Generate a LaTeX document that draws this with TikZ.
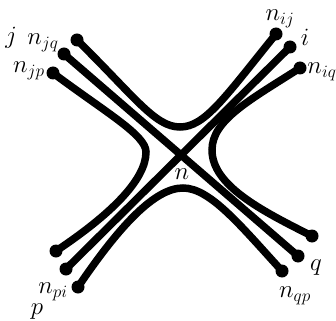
\documentclass[tikz,border=0pt]{standalone}
\begin{document}
\begin{tikzpicture}[x=1pt,y=-1pt,
  strand/.style={line width=7.5pt,black},
  endpt/.style={circle,fill=black,inner sep=0pt,minimum size=13pt},
  lbl/.style={font=\huge,inner sep=0pt}]
\newcommand{\lb}[1]{\scalebox{1.2}{$#1$}}
\useasboundingbox (0,0) rectangle (336,320);
% end points
\node[endpt] (a1) at (77,40) {};
\node[endpt] (a2) at (64,54) {};
\node[endpt] (a3) at (53,73) {};
\node[endpt] (b1) at (276,34) {};
\node[endpt] (b2) at (290,47) {};
\node[endpt] (b3) at (300,68) {};
\node[endpt] (c1) at (56,251) {};
\node[endpt] (c2) at (66,269) {};
\node[endpt] (c3) at (78,287) {};
\node[endpt] (d1) at (312,236) {};
\node[endpt] (d2) at (298,256) {};
\node[endpt] (d3) at (282,271) {};
% strands
\draw[strand] (a1.center) .. controls (135,97) and (155,127) .. (180,127)
   .. controls (205,127) and (225,97) .. (b1.center);
\draw[strand] (a3.center) .. controls (105,112) and (146,135) .. (146,152)
   .. controls (146,180) and (110,215) .. (c1.center);
\draw[strand] (b3.center) .. controls (250,100) and (212,120) .. (212,150)
   .. controls (212,185) and (260,210) .. (d1.center);
\draw[strand] (c3.center) .. controls (120,225) and (155,188) .. (183,188)
   .. controls (210,188) and (240,225) .. (d3.center);
\draw[strand] (a2.center) -- (d2.center);
\draw[strand] (b2.center) -- (c2.center);
% labels
\node[lbl] (lj) at (11,38) {\lb{j}};
\node[lbl] (ljq) at (43,43) {\lb{n_{jq}}};
\node[lbl] (ljp) at (29,71) {\lb{n_{jp}}};
\node[lbl] (lij) at (280,19) {\lb{n_{ij}}};
\node[lbl] (li) at (305,37) {\lb{i}};
\node[lbl] (liq) at (322,72) {\lb{n_{iq}}};
\node[lbl] (ln) at (182,174) {\lb{n}};
\node[lbl] (lpi) at (53,292) {\lb{n_{pi}}};
\node[lbl] (lp) at (37,312) {\lb{p}};
\node[lbl] (lq) at (316,268) {\lb{q}};
\node[lbl] (lqp) at (295,296) {\lb{n_{qp}}};
\end{tikzpicture}
\end{document}
